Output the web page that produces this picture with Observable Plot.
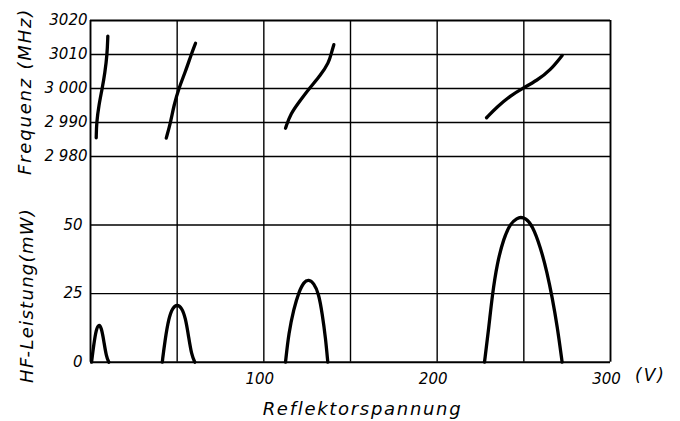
<!DOCTYPE html>
<html>
<head>
<meta charset="utf-8">
<script src="https://cdn.jsdelivr.net/npm/d3@7"></script>
<script src="https://cdn.jsdelivr.net/npm/@observablehq/plot@0.6"></script>
<style>
  html, body { margin: 0; padding: 0; background: white; }
  #chart { position: relative; width: 680px; height: 421px; }
  #chart svg { position: absolute; left: 0; overflow: visible; }
</style>
</head>
<body>
<div id="chart"></div>
<script>
// ---- Data ----
// X: Reflektorspannung (V)
const xTicks = [100, 200, 300];
const xGrid = [50, 100, 150, 200, 250];

// Frequency panel (MHz)
const freqTicks = [2980, 2990, 3000, 3010, 3020];
const freqTickLabels = ["2 980", "2 990", "3 000", "3010", "3020"];

// Frequency curves: reflector voltage (V) and frequency (MHz)
const freq1V = [3.3, 3.5, 4.8, 6.75, 8.3, 9.6, 10.0];
const freq1F = [2985.5, 2990, 2995, 3000, 3004.6, 3010, 3015.4];
const freq2V = [43.7, 46.2, 48.1, 50.9, 54.8, 58.1, 60.6];
const freq2F = [2985.4, 2990, 2995, 3000, 3005, 3010, 3013.3];
const freq3V = [112.5, 115.4, 121.2, 126.5, 132.7, 137.5, 139.0, 140.4];
const freq3F = [2988.3, 2992.6, 2996.6, 3000.2, 3003.9, 3007.6, 3010.5, 3012.9];
const freq4V = [228.5, 234.6, 242.3, 249.1, 257.7, 265.4, 272.1];
const freq4F = [2991.4, 2994.6, 2997.9, 3000, 3002.4, 3005.4, 3009.7];

// Power panel (mW)
const powTicks = [0, 25, 50];
const powTickLabels = ["0", "25", "50"];

// Power curves: reflector voltage (V) and HF power (mW)
const pow1V = [0.6, 1.9, 3.3, 4.8, 6.3, 7.7, 9.1, 10.6];
const pow1P = [0, 6.5, 12.0, 13.9, 12.6, 7.7, 2.1, 0];
const pow2V = [41.4, 42.9, 45.2, 47.5, 50.0, 52.5, 54.8, 56.7, 58.3, 60.2];
const pow2P = [0, 7.7, 16.3, 20.0, 21.0, 20.0, 16.3, 8.9, 2.7, 0];
const pow3V = [112.5, 114.4, 117.3, 120.2, 123.1, 125.9, 128.8, 131.7, 133.7, 135.6, 136.9];
const pow3P = [0, 10.8, 19.5, 25.6, 29.3, 30.2, 28.9, 25.0, 17.6, 8.9, 0];
const pow4V = [227.3, 229.8, 231.8, 234.6, 238.4, 242.3, 246.2, 248.1, 251.0, 254.8, 259.6, 263.5, 266.4, 269.3, 272.1];
const pow4P = [0, 12.6, 24.5, 36.1, 45.2, 50.7, 52.5, 52.9, 52.5, 50.1, 42.0, 32.5, 23.5, 13.1, 0];

// ---- Build tables ----
const toRows = (vs, ys, id) => vs.map((v, i) => ({v, y: ys[i], id}));
const freqRows = [
  ...toRows(freq1V, freq1F, "f1"), ...toRows(freq2V, freq2F, "f2"),
  ...toRows(freq3V, freq3F, "f3"), ...toRows(freq4V, freq4F, "f4")
];
const powRows = [
  ...toRows(pow1V, pow1P, "p1"), ...toRows(pow2V, pow2P, "p2"),
  ...toRows(pow3V, pow3P, "p3"), ...toRows(pow4V, pow4P, "p4")
];

const FONT = "'DejaVu Sans', sans-serif";
const baseStyle = {fontFamily: FONT, fontStyle: "italic", fontSize: "15px", background: "transparent", color: "black", overflow: "visible"};
const gridW = 1.4, frameW = 1.9, curveW = 3.3;
const xOpts = {domain: [0, 300]};

const topPlot = Plot.plot({
  width: 680, height: 156,
  marginLeft: 90, marginRight: 70, marginTop: 20, marginBottom: 0,
  style: baseStyle,
  x: {...xOpts, axis: null},
  y: {domain: [2980, 3020], axis: null},
  marks: [
    Plot.gridX({ticks: xGrid, stroke: "black", strokeOpacity: 1, strokeWidth: gridW}),
    Plot.gridY({ticks: [2980, 2990, 3000, 3010], stroke: "black", strokeOpacity: 1, strokeWidth: gridW}),
    Plot.ruleX([0, 300], {stroke: "black", strokeWidth: frameW}),
    Plot.ruleY([3020], {stroke: "black", strokeWidth: frameW}),
    Plot.axisY({ticks: freqTicks, tickSize: 0, tickPadding: 3,
      tickFormat: (d) => freqTickLabels[freqTicks.indexOf(d)], label: null, fontSize: 15}),
    Plot.line(freqRows, {x: "v", y: "y", z: "id", curve: "basis", stroke: "black",
      strokeWidth: curveW, strokeLinecap: "round"}),
    Plot.text(["Frequenz (MHz)"], {frameAnchor: "left", textAnchor: "middle", lineAnchor: "middle",
      rotate: -90, dx: -65, dy: 3, fontSize: 18})
  ]
});

const bottomPlot = Plot.plot({
  width: 680, height: 265,
  marginLeft: 90, marginRight: 70, marginTop: 0, marginBottom: 59.3,
  style: baseStyle,
  x: {...xOpts, axis: null},
  y: {domain: [0, 75], axis: null},
  marks: [
    Plot.gridX({ticks: xGrid, stroke: "black", strokeOpacity: 1, strokeWidth: gridW}),
    Plot.gridY({ticks: [25, 50], stroke: "black", strokeOpacity: 1, strokeWidth: gridW}),
    Plot.ruleX([0, 300], {stroke: "black", strokeWidth: frameW}),
    Plot.ruleY([0], {stroke: "black", strokeWidth: frameW}),
    Plot.axisY({ticks: powTicks, tickSize: 0, tickPadding: 8,
      tickFormat: (d) => powTickLabels[powTicks.indexOf(d)], label: null, fontSize: 15}),
    Plot.axisX({ticks: xTicks, tickSize: 0, tickPadding: 11, dx: -4,
      tickFormat: d => String(d), label: null, fontSize: 15}),
    Plot.line(powRows, {x: "v", y: "y", z: "id", curve: "basis", stroke: "black",
      strokeWidth: curveW, strokeLinecap: "round"}),
    Plot.text(["HF-Leistung(mW)"], {frameAnchor: "left", textAnchor: "middle", lineAnchor: "middle",
      rotate: -90, dx: -63, dy: 36, fontSize: 18}),
    Plot.text(["(V)"], {frameAnchor: "bottom-right", textAnchor: "middle", lineAnchor: "middle",
      dx: 40, dy: 13, fontSize: 17}),
    Plot.text(["Reflektorspannung"], {frameAnchor: "bottom", textAnchor: "middle", lineAnchor: "middle",
      dx: 12, dy: 47, fontSize: 18})
  ]
});

// Hand-lettering is wide: add letter spacing to the titles
const spacing = {"Frequenz (MHz)": "1.8px", "HF-Leistung(mW)": "1.3px", "Reflektorspannung": "1.7px", "(V)": "2px"};
for (const svg of [topPlot, bottomPlot]) {
  d3.select(svg).selectAll('g[aria-label="text"] text').each(function() {
    const s = spacing[this.textContent];
    if (s) this.style.letterSpacing = s;
  });
}

topPlot.style.top = "0px";
bottomPlot.style.top = "156px";
const chart = document.getElementById("chart");
chart.appendChild(topPlot);
chart.appendChild(bottomPlot);
</script>
</body>
</html>
